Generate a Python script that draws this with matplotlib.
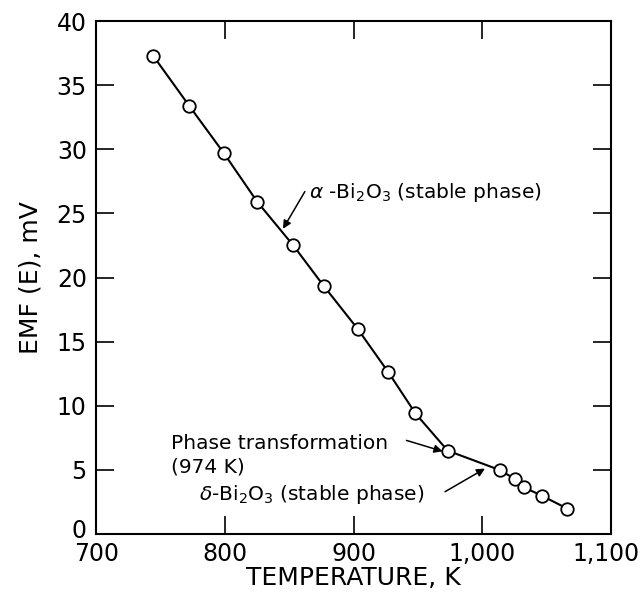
import matplotlib
matplotlib.use('Agg')
import matplotlib.pyplot as plt
import matplotlib.transforms as mtransforms

# EMF vs temperature
temp_k = [744, 772, 799, 825, 853, 877, 903, 927, 948, 973, 1014, 1025, 1032, 1046, 1066]
emf_mv = [37.3, 33.4, 29.7, 25.9, 22.5, 19.3, 16.0, 12.6, 9.4, 6.5, 4.97, 4.3, 3.65, 3.0, 1.98]

x_ticks = [700, 800, 900, 1000, 1100]
x_tick_labels = ['700', '800', '900', '1,000', '1,100']
y_ticks = [0, 5, 10, 15, 20, 25, 30, 35, 40]

plt.rcParams['font.family'] = 'DejaVu Sans'
plt.rcParams['mathtext.fontset'] = 'dejavusans'

fig = plt.figure(figsize=(6.42, 5.94), dpi=100)
ax = fig.add_axes([0.1503, 0.1010, 0.8014, 0.8636])

ax.plot(temp_k, emf_mv, '-', color='black', lw=1.5,
        marker='o', ms=9, mfc='white', mec='black', mew=1.3, zorder=3)

ax.set_xlim(700, 1100)
ax.set_ylim(0, 40)
ax.set_xticks(x_ticks)
ax.set_xticklabels(x_tick_labels)
ax.set_yticks(y_ticks)
ax.tick_params(direction='in', length=13, width=1.2, top=True, right=True,
               labelsize=17)
ax.tick_params(axis='x', pad=6)
ax.tick_params(axis='y', pad=7)
for s in ax.spines.values():
    s.set_linewidth(1.5)

# corner labels: nudge so they don't run off the edge / into each other
last = ax.get_xticklabels()[-1]
last.set_transform(last.get_transform() + mtransforms.ScaledTranslation(-5 / 100, 0, fig.dpi_scale_trans))
zero = ax.get_yticklabels()[0]
zero.set_transform(zero.get_transform() + mtransforms.ScaledTranslation(0, 6 / 100, fig.dpi_scale_trans))

ax.set_xlabel('TEMPERATURE, K', fontsize=18, labelpad=0)
ax.set_ylabel('EMF (E), mV', fontsize=18, labelpad=10)

fs = 14.5
arr = dict(arrowstyle='-|>', color='black', lw=1.1, mutation_scale=12, shrinkA=0, shrinkB=0)

ax.text(865, 26.6, r'$\alpha$ -Bi$_2$O$_3$ (stable phase)', fontsize=fs, va='center', ha='left')
ax.annotate('', xy=(845, 23.8), xytext=(862, 26.7), arrowprops=arr)

ax.text(758, 7.05, 'Phase transformation', fontsize=fs, va='center', ha='left')
ax.text(758, 5.25, '(974 K)', fontsize=fs, va='center', ha='left')
ax.annotate('', xy=(969, 6.45), xytext=(941, 7.3), arrowprops=arr)

ax.text(780, 3.1, r'$\delta$-Bi$_2$O$_3$ (stable phase)', fontsize=fs, va='center', ha='left')
ax.annotate('', xy=(1002, 5.1), xytext=(971, 3.3), arrowprops=arr)

fig.savefig('out.png', dpi=100)
